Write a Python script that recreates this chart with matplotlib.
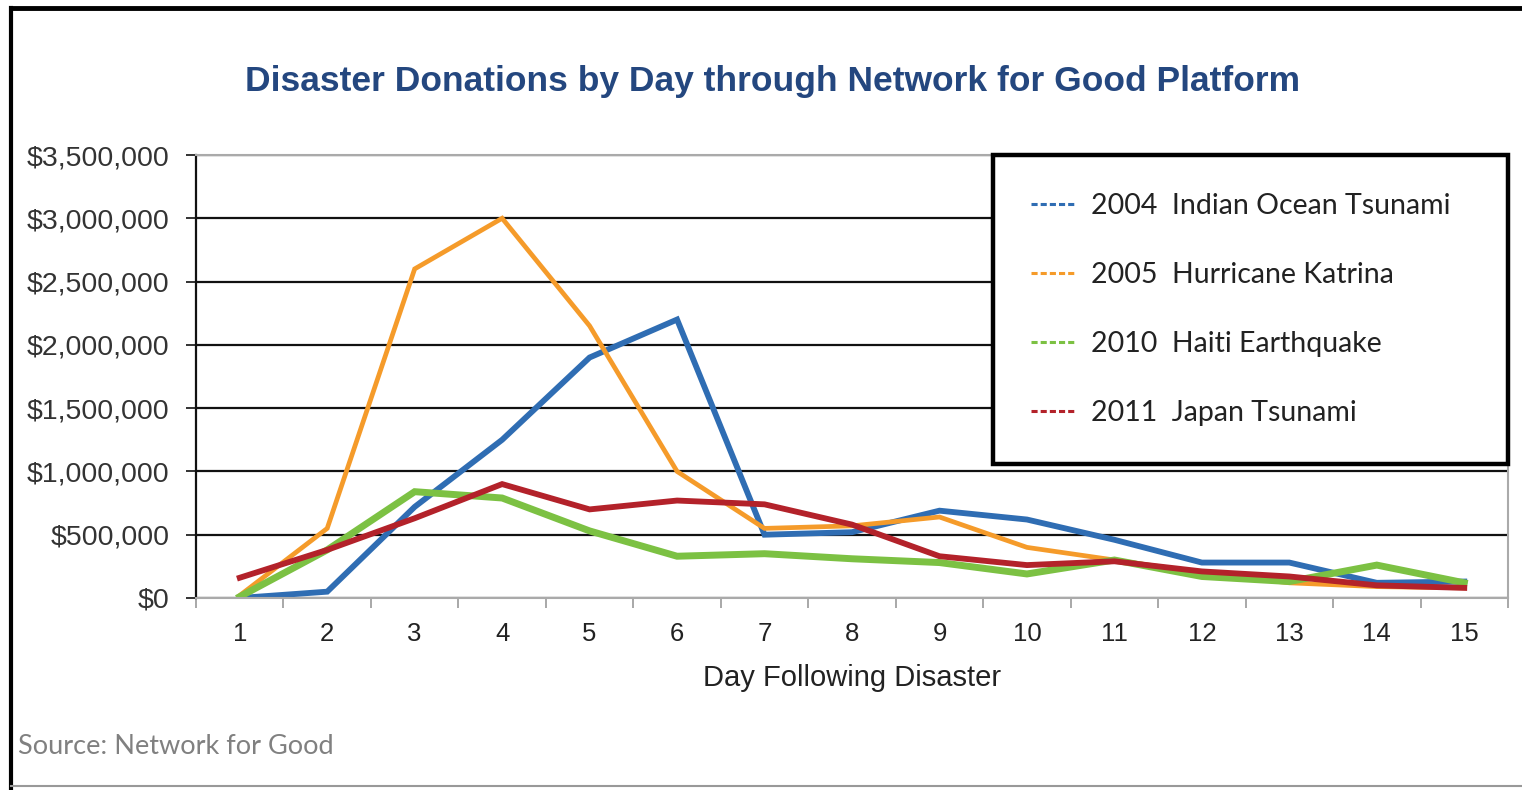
import numpy as np
import matplotlib.pyplot as plt
from matplotlib.lines import Line2D
from matplotlib.ticker import FuncFormatter, MultipleLocator

# Donnees
days = list(range(1, 16))
tsunami_2004 = [0, 50000, 720000, 1250000, 1900000, 2200000, 500000, 520000,
                690000, 620000, 460000, 280000, 280000, 120000, 130000]
katrina_2005 = [20000, 550000, 2600000, 3000000, 2150000, 1000000, 550000, 570000,
                640000, 400000, 300000, 200000, 120000, 90000, 80000]
haiti_2010 = [10000, 380000, 840000, 790000, 530000, 330000, 350000, 310000,
              280000, 190000, 300000, 170000, 130000, 260000, 120000]
japan_2011 = [160000, 380000, 630000, 900000, 700000, 770000, 740000, 580000,
              330000, 260000, 290000, 210000, 170000, 100000, 80000]

labels = ["2004  Indian Ocean Tsunami", "2005  Hurricane Katrina",
          "2010  Haiti Earthquake", "2011  Japan Tsunami"]
colors = ["#2f6db3", "#f59b2a", "#7cc143", "#b3222a"]
widths = [4.2, 3.4, 5.0, 4.2]

W, H = 1522, 790
fig = plt.figure(figsize=(W / 100, H / 100), dpi=100)
ax = fig.add_axes([196 / W, 1 - 598 / H, (1508 - 196) / W, (598 - 155) / H])

series = [tsunami_2004, katrina_2005, haiti_2010, japan_2011]
for vals, lab, c, lw in zip(series, labels, colors, widths):
    ax.plot(days, vals, color=c, lw=lw, label=lab, solid_joinstyle="miter")

ax.set_xlim(0.5, 15.5)
ax.set_ylim(0, 3500000)
ax.set_xticks(days)
ax.xaxis.set_minor_locator(MultipleLocator(1, offset=0.5))
ax.yaxis.set_major_locator(MultipleLocator(500000))
ax.yaxis.set_major_formatter(FuncFormatter(lambda v, p: "${:,.0f}".format(v)))

tick_font = "Liberation Sans"
ax.tick_params(axis="x", which="major", length=0, pad=17, labelsize=18.5,
               labelcolor="#222222")
ax.tick_params(axis="x", which="minor", length=7, width=1.2, color="#999999")
ax.tick_params(axis="y", length=7, width=1.3, color="#222222", pad=12,
               labelsize=20.5, labelcolor="#333333")
for t in ax.get_xticklabels() + ax.get_yticklabels():
    t.set_fontfamily(tick_font)

# grille noire
ax.grid(axis="y", color="#111111", lw=1.6)
ax.set_axisbelow(True)
ax.yaxis.get_gridlines()[-1].set_visible(False)

ax.spines["left"].set_color("#111111")
ax.spines["left"].set_linewidth(1.6)
for s in ["top", "right", "bottom"]:
    ax.spines[s].set_color("#aaaaaa")
    ax.spines[s].set_linewidth(1.5)

ax.set_xlabel("Day Following Disaster", fontsize=21, family=tick_font,
              color="#222222", labelpad=13)

# legende avec traits pointilles
leg = ax.legend(loc="upper left", bbox_to_anchor=(0.6075, 0, 0.3925, 1),
                mode="expand", frameon=True, fancybox=False, edgecolor="black",
                framealpha=1, borderpad=1.35, labelspacing=1.5, handlelength=1.5,
                handletextpad=0.6, borderaxespad=0,
                prop={"family": "Lato", "size": 20.5})
leg.get_frame().set_linewidth(3.2)
for ln in leg.get_lines():
    ln.set_linestyle((0, (2, 1)))
    ln.set_linewidth(2.2)
for t in leg.get_texts():
    t.set_color("#222222")

fig.text(773 / W, 1 - 81 / H,
         "Disaster Donations by Day through Network for Good Platform",
         ha="center", va="center", fontsize=25.5, fontweight="bold",
         family=tick_font, color="#24477f")

fig.text(18 / W, 1 - 746 / H, "Source: Network for Good", ha="left",
         va="center", fontsize=19.5, family="Lato", color="#808080")

# cadre de l'image
fig.add_artist(Line2D([11 / W, 11 / W], [0, 1 - 8 / H], color="black", lw=3,
                      transform=fig.transFigure))
fig.add_artist(Line2D([11 / W, 1], [1 - 8 / H, 1 - 8 / H], color="black", lw=3.5,
                      transform=fig.transFigure))
fig.add_artist(Line2D([11 / W, 1], [4 / H, 4 / H], color="#999999", lw=1.5,
                      transform=fig.transFigure))

fig.savefig("out.png", dpi=100)
